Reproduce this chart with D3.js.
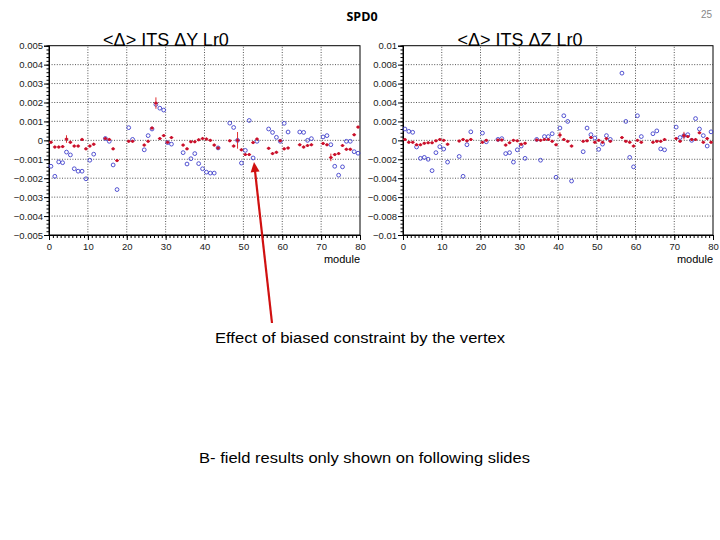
<!DOCTYPE html>
<html>
<head>
<meta charset="utf-8">
<script src="https://cdn.jsdelivr.net/npm/d3@7"></script>
<style>
  body { margin: 0; background: #fff; }
  svg { display: block; }
</style>
</head>
<body>
<svg id="slide" width="720" height="540"></svg>
<script>
// modules that have entries (bin index, plotted at bin centre)
const modules = [0,1,2,3,4,5,6,7,8,9,10,11, 14,15,16,17, 20,21, 24,25,26,27,28,29,30,31,
  34,35,36,37,38,39,40,41,42,43, 46,47,48,49,50,51,52,53, 56,57,58,59,60,61, 64,65,66,67,
  70,71,72,73,74,75,76,77,78,79]

// <Delta> ITS dY, red = with vertex constraint, blue = open markers
const dyRed = [-0.0001,-0.00035,-0.00035,-0.00033,0.00007,-0.0001,-0.0003,-0.0003,0.00005,-0.00045,-0.0003,-0.0002,
  0.0001,0.00005,-0.00045,-0.00107, -0.00005,-0.00005, -0.00025,-0.00005,0.00065,0.00197,0.0001,0.00025,-0.0001,0.00015,
  -0.00025,-0.00045,-0.00007,-0.00007,0.00003,0.0001,0.00007,0.0,-0.00025,-0.0004,
  -0.00002,-0.0003,0.0,-0.0005,-0.00075,-0.00075,-0.00012,0.00007,
  -0.00042,-0.0007,-0.00063,-0.00002,-0.00045,-0.0004, -0.00023,-0.00035,-0.00027,-0.00023,
  -0.00016,-0.00023,-0.0009,-0.00075,-0.0007,-0.00027,-0.00047,-0.00047,0.0003,0.0007]
const dyRedErr = [0.00008,0.00008,0.00008,0.00008,0.0002,0.00008,0.00008,0.00008,0.00008,0.00008,0.00008,0.00008,
  0.00008,0.00008,0.00008,0.00008, 0.00008,0.00008, 0.00008,0.00008,0.00008,0.0003,0.00008,0.00008,0.00008,0.00008,
  0.00008,0.00008,0.00008,0.00008,0.00008,0.00008,0.00008,0.00008,0.00008,0.00008,
  0.00008,0.00008,0.00044,0.00008,0.00008,0.00008,0.00008,0.00008,
  0.00008,0.00008,0.00008,0.00008,0.00008,0.00008, 0.00008,0.00008,0.00008,0.00008,
  0.00008,0.00008,0.0002,0.00008,0.00008,0.00008,0.00008,0.00008,0.00008,0.00008]
const dyBlue = [-0.00137,-0.0019,-0.00114,-0.00118,-0.00062,-0.00077,-0.0015,-0.00163,-0.00163,-0.00203,-0.00105,-0.00073,
  0.0001,-0.00005,-0.0013,-0.0026, 0.00067,0.00005, -0.0005,0.00025,0.0006,0.0019,0.0017,0.0016,-0.00012,-0.0002,
  -0.00065,-0.00125,-0.00097,-0.0007,-0.00123,-0.0015,-0.00168,-0.00173,-0.00173,-0.0004,
  0.00091,0.00068,0.0,-0.0012,-0.00053,0.00105,-0.00093,-0.00005,
  0.0006,0.00042,0.00016,-0.00005,0.0009,0.00044, 0.00044,0.00042,0.0,0.00009,
  0.00018,0.00025,-0.00023,-0.00137,-0.00184,-0.0014,-0.00005,-0.00005,-0.0006,-0.00068]

// <Delta> ITS dZ
const dzRed = [0.0001,-0.0002,-0.0002,-0.00046,-0.00046,-0.0003,-0.00025,-0.00025,-0.00005,0.0001,0.0,-0.0004,
  -0.00007,0.0001,-0.00005,0.0001, -0.0002,0.0, 0.00004,0.00004,-0.0005,-0.00025,0.0,-0.00005,-0.0004,-0.0003,
  0.00004,0.0,0.0001,0.0001,-0.0001,-0.00046,0.00056,0.0001,-0.0001,-0.0006,
  -0.0001,-0.00005,0.0003,-0.0002,0.0,-0.0002,0.0002,-0.0001,
  0.0003,-0.0001,-0.0002,-0.0006,0.0,-0.0002, -0.0002,-0.0001,-0.0001,0.0001,
  0.0002,-0.0001,0.0005,0.0004,0.0001,0.0001,0.0008,-0.0002,0.0002,-0.0002]
const dzRedErr = [0.00015,0.00015,0.00015,0.00015,0.00015,0.00015,0.00015,0.00015,0.00015,0.00015,0.00015,0.00015,
  0.00015,0.00015,0.00015,0.00015, 0.00015,0.00015, 0.00015,0.00015,0.00015,0.00015,0.00015,0.00015,0.00015,0.00015,
  0.00015,0.00015,0.00015,0.00015,0.00015,0.00015,0.0003,0.00015,0.00015,0.00015,
  0.00015,0.00015,0.00015,0.00015,0.00015,0.00015,0.00015,0.00015,
  0.00015,0.00015,0.00015,0.00015,0.00015,0.00015, 0.00015,0.00015,0.00015,0.00015,
  0.00015,0.00015,0.0004,0.00015,0.00015,0.00015,0.00015,0.00015,0.00015,0.00015]
const dzBlue = [0.0012,0.00095,0.00085,-0.0007,-0.0019,-0.0018,-0.002,-0.0032,-0.0013,-0.00067,-0.00092,-0.0023,
  -0.0017,-0.0038,-0.00046,0.0009, 0.00077,-0.00015, 0.0001,0.00018,-0.0014,-0.0013,-0.0023,-0.001,-0.0006,-0.0019,
  0.0001,-0.0021,0.0004,0.0004,0.0007,-0.0039,0.0013,0.0026,0.002,-0.0043,
  -0.0012,0.0013,0.0006,0.00025,-0.00095,-0.0004,0.0005,0.0001,
  0.0071,0.002,-0.0018,-0.0028,0.0026,0.0004, 0.0007,0.001,-0.0009,-0.001,
  0.0014,0.0003,0.0005,0.0006,0.0,0.0023,0.0012,0.0005,-0.0006,0.0009]

const xTicks = [0,10,20,30,40,50,60,70,80]
const dyTicks = [-0.005,-0.004,-0.003,-0.002,-0.001,0,0.001,0.002,0.003,0.004,0.005]
const dzTicks = [-0.01,-0.008,-0.006,-0.004,-0.002,0,0.002,0.004,0.006,0.008,0.01]

const font = "'Liberation Sans', Arial, sans-serif"
const svg = d3.select("#slide")

svg.append("rect").attr("width", 720).attr("height", 540).attr("fill", "#fff")

// format like ROOT: 0.005, 0, -0.001
const fmt = d => d === 0 ? "0" : (d < 0 ? "\u2212" : "") + String(+Math.abs(d).toPrecision(3))

const drawPanel = function(p) {
  var x = d3.scaleLinear().domain([0, 80]).range([p.left, p.right])
  var y = d3.scaleLinear().domain(p.yDomain).range([235, 45.7])
  var g = svg.append("g")

  // dotted grid
  g.append("g").selectAll("line")
    .data(xTicks.slice(1, -1))
    .enter().append("line")
    .attr("x1", d => x(d)).attr("x2", d => x(d))
    .attr("y1", y.range()[0]).attr("y2", y.range()[1])
  g.append("g").selectAll("line")
    .data(p.yTicks.slice(1, -1))
    .enter().append("line")
    .attr("x1", p.left).attr("x2", p.right)
    .attr("y1", d => y(d)).attr("y2", d => y(d))
  g.selectAll("g line")
    .attr("stroke", "#555")
    .attr("stroke-width", 1)
    .attr("stroke-dasharray", "1,1.6")

  // minor ticks
  var yMinor = d3.range(0, 51).map(i => p.yDomain[0] + i * (p.yDomain[1] - p.yDomain[0]) / 50)
  g.append("g")
    .attr("transform", "translate(" + p.left + ",0)")
    .call(d3.axisLeft(y).tickValues(yMinor).tickSize(2.5).tickFormat(""))
  g.append("g")
    .attr("transform", "translate(0,235)")
    .call(d3.axisBottom(x).tickValues(d3.range(0, 81)).tickSize(3).tickFormat(""))

  // major ticks + labels
  g.append("g")
    .attr("class", "yax")
    .attr("transform", "translate(" + p.left + ",0)")
    .call(d3.axisLeft(y).tickValues(p.yTicks).tickSize(5).tickPadding(1).tickFormat(fmt))
  g.append("g")
    .attr("class", "xax")
    .attr("transform", "translate(0,235)")
    .call(d3.axisBottom(x).tickValues(xTicks).tickSize(5).tickPadding(3).tickFormat(d3.format("d")))

  g.selectAll(".domain").attr("stroke", "#000")
  g.selectAll(".tick line").attr("stroke", "#000")
  g.selectAll(".tick text")
    .attr("font-family", font)
    .attr("font-size", "9.5px")
    .attr("fill", "#1a1a1a")

  // frame
  g.append("rect")
    .attr("x", p.left).attr("y", 45.7)
    .attr("width", p.right - p.left).attr("height", 235 - 45.7)
    .attr("fill", "none").attr("stroke", "#000").attr("stroke-width", 1)

  // title and axis label
  g.append("text")
    .text(p.title)
    .attr("x", p.titleX).attr("y", 45.5)
    .attr("text-anchor", "middle")
    .attr("font-family", font).attr("font-size", "18px")
    .attr("fill", "#000")
  g.append("text")
    .text("module")
    .attr("x", p.right).attr("y", 263)
    .attr("text-anchor", "end")
    .attr("font-family", font).attr("font-size", "11px")
    .attr("fill", "#000")

  // open blue markers
  g.append("g").selectAll("circle")
    .data(modules)
    .enter().append("circle")
    .attr("cx", d => x(d + 0.5))
    .attr("cy", (d, i) => y(p.blue[i]))
    .attr("r", 1.9)
    .attr("fill", "none")
    .attr("stroke", "#4040cc")
    .attr("stroke-width", 0.9)

  // red points with error bars
  var red = g.append("g").selectAll("g")
    .data(modules)
    .enter().append("g")
  red.append("line")
    .attr("x1", d => x(d)).attr("x2", d => x(d + 1))
    .attr("y1", (d, i) => y(p.red[i])).attr("y2", (d, i) => y(p.red[i]))
  red.append("line")
    .attr("x1", d => x(d + 0.5)).attr("x2", d => x(d + 0.5))
    .attr("y1", (d, i) => y(p.red[i] - p.err[i])).attr("y2", (d, i) => y(p.red[i] + p.err[i]))
  red.selectAll("line").attr("stroke", "#e03030").attr("stroke-width", 1)
  red.append("circle")
    .attr("cx", d => x(d + 0.5))
    .attr("cy", (d, i) => y(p.red[i]))
    .attr("r", 1.5)
    .attr("fill", "#c8102e")
}

drawPanel({left: 49, right: 360, yDomain: [-0.005, 0.005], yTicks: dyTicks,
  title: "<\u0394> ITS \u0394Y Lr0", titleX: 166, red: dyRed, err: dyRedErr, blue: dyBlue})
drawPanel({left: 403, right: 713, yDomain: [-0.01, 0.01], yTicks: dzTicks,
  title: "<\u0394> ITS \u0394Z Lr0", titleX: 520, red: dzRed, err: dzRedErr, blue: dzBlue})

// slide texts
svg.append("text")
  .text("SPD0")
  .attr("x", 362).attr("y", 21)
  .attr("text-anchor", "middle")
  .attr("font-family", "'Open Sans', 'Liberation Sans', sans-serif")
  .attr("font-weight", "bold").attr("font-size", "12.5px")
svg.append("text")
  .text("25")
  .attr("x", 712).attr("y", 18)
  .attr("text-anchor", "end")
  .attr("font-family", font).attr("font-size", "10px")
  .attr("fill", "#888")
svg.append("text")
  .text("Effect of biased constraint by the vertex")
  .attr("x", 215).attr("y", 343)
  .attr("textLength", 290).attr("lengthAdjust", "spacingAndGlyphs")
  .attr("font-family", font).attr("font-size", "15px")
svg.append("text")
  .text("B- field results only shown on following slides")
  .attr("x", 199).attr("y", 463)
  .attr("textLength", 331).attr("lengthAdjust", "spacingAndGlyphs")
  .attr("font-family", font).attr("font-size", "15px")

// red arrow pointing at the dip near module 52
const ax0 = 272, ay0 = 323, ax1 = 254, ay1 = 162
const ang = Math.atan2(ay1 - ay0, ax1 - ax0)
const hl = 10, hw = 4.5
svg.append("line")
  .attr("x1", ax0).attr("y1", ay0)
  .attr("x2", ax1 - Math.cos(ang) * hl * 0.8).attr("y2", ay1 - Math.sin(ang) * hl * 0.8)
  .attr("stroke", "#d01010").attr("stroke-width", 2.2)
svg.append("path")
  .attr("d", d3.line()([
    [ax1, ay1],
    [ax1 - Math.cos(ang) * hl - Math.sin(ang) * hw, ay1 - Math.sin(ang) * hl + Math.cos(ang) * hw],
    [ax1 - Math.cos(ang) * hl + Math.sin(ang) * hw, ay1 - Math.sin(ang) * hl - Math.cos(ang) * hw]
  ]) + "Z")
  .attr("fill", "#d01010")
</script>
</body>
</html>
